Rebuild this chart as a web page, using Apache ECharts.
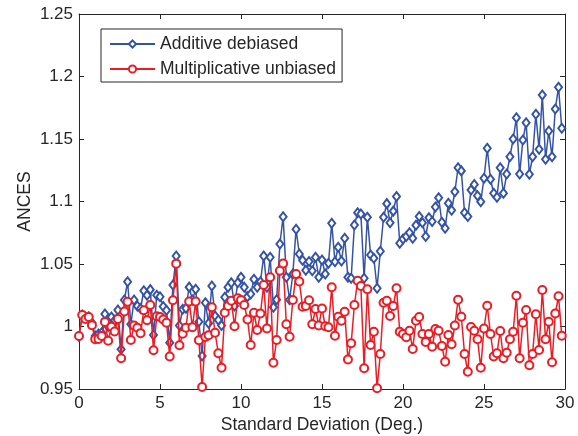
<!DOCTYPE html>
<html>
<head>
<meta charset="utf-8">
<script src="https://cdn.jsdelivr.net/npm/echarts@6/dist/echarts.min.js"></script>
<style>
  html, body { margin: 0; padding: 0; background: #fff; }
  #main { width: 578px; height: 436px; }
</style>
</head>
<body>
<div id="main"></div>
<script>
// sample spacing on the x axis (deg.)
var step = 0.2;

var seriesNames = ['Additive debiased', 'Multiplicative unbiased'];

var additive = [
  0.992, 1.0092, 1.0074, 1.0078, 1.003, 0.9924, 0.994, 0.995, 1.010, 1.000,
  1.0076, 1.005, 1.0132, 0.9818, 1.0212, 1.0358, 1.0018, 1.0212, 1.0164, 1.0144,
  1.0286, 1.025, 1.0295, 0.9932, 1.025, 1.0238, 1.016, 1.013, 0.987, 1.0332,
  1.0564, 1.0008, 1.0138, 1.0146, 1.0315, 1.0212, 1.0298, 1.0038, 0.9764, 1.019,
  1.0026, 1.0324, 1.0084, 1.0052, 1.0008, 1.0234, 1.0314, 1.035, 1.0164, 1.035,
  1.0394, 1.0314, 1.0238, 1.026, 1.0378, 1.0314, 1.0358, 1.0564, 1.0314, 1.0554,
  1.0154, 1.0214, 1.066, 1.0878, 1.0394, 1.0214, 1.042, 1.0778, 1.058, 1.053,
  1.045, 1.052, 1.0446, 1.0554, 1.0394, 1.0532, 1.042, 1.0506, 1.0826, 1.0518,
  1.0634, 1.0524, 1.0706, 1.0394, 1.0386, 1.0812, 1.091, 1.09, 1.0386, 1.0874,
  1.0572, 1.0546, 1.0306, 1.0602, 1.0874, 1.0983, 1.083, 1.0923, 1.104, 1.0666,
  1.070, 1.072, 1.075, 1.0706, 1.081, 1.088, 1.083, 1.072, 1.087, 1.084,
  1.0956, 1.103, 1.0834, 1.0786, 1.0986, 1.093, 1.1078, 1.127, 1.1245, 1.091,
  1.088, 1.1092, 1.1136, 1.1046, 1.0998, 1.1186, 1.1426, 1.1178, 1.1066, 1.1034,
  1.127, 1.1066, 1.122, 1.1358, 1.15, 1.167, 1.122, 1.1492, 1.163, 1.1218,
  1.1358, 1.1698, 1.1418, 1.1852, 1.1338, 1.1564, 1.1358, 1.174, 1.1914, 1.1586
];

var multiplicative = [
  0.9924, 1.0092, 1.006, 1.0076, 1.001, 0.9898, 0.990, 0.9924, 1.0037, 0.9886,
  0.9998, 0.996, 1.006, 0.9746, 1.012, 1.0198, 0.9892, 1.0008, 0.999, 0.9947,
  1.013, 1.005, 1.0172, 0.981, 1.0082, 1.0077, 1.0056, 1.003, 0.976, 1.021,
  1.0503, 0.985, 0.9942, 0.999, 1.02, 0.9995, 1.02, 0.989, 0.9516, 0.9916,
  0.993, 1.0154, 0.995, 0.9786, 0.967, 1.011, 1.0164, 1.0206, 1.0002, 1.0226,
  1.0212, 1.0172, 1.0056, 0.9852, 1.011, 0.9972, 1.0104, 1.0332, 0.9984, 1.0394,
  0.971, 0.9892, 1.0446, 1.0504, 1.0018, 0.9918, 1.0212, 1.042, 1.036, 1.0158,
  1.0164, 1.021, 1.0018, 1.014, 1.0008, 1.0144, 1.0002, 0.9994, 1.0314, 0.9926,
  1.0078, 1.0046, 1.0118, 0.9736, 0.9866, 1.0172, 1.0366, 1.0324, 0.9666, 1.0298,
  0.9852, 0.9958, 0.9506, 0.978, 1.019, 1.0206, 1.0084, 1.0164, 1.0306, 0.9958,
  0.994, 0.9914, 0.9966, 0.982, 1.0046, 1.0076, 0.994, 0.9876, 0.994, 0.9838,
  0.998, 0.9966, 0.9844, 0.9718, 0.9932, 0.9858, 1.0008, 1.0214, 1.0078, 0.978,
  0.9638, 0.9996, 0.9966, 0.9898, 0.967, 0.9984, 1.0166, 0.994, 0.976, 0.9786,
  0.9964, 0.9746, 0.979, 0.9898, 0.9958, 1.0246, 0.9746, 1.003, 1.0132, 0.969,
  0.978, 1.0098, 0.9812, 1.0292, 0.9898, 1.0038, 0.9714, 1.0104, 1.0242, 0.9926
];

var xTicks = [0, 5, 10, 15, 20, 25, 30];
var yTicks = [0.95, 1, 1.05, 1.1, 1.15, 1.2, 1.25];

function pairs(arr) {
  return arr.map(function (v, i) { return [+(i * step).toFixed(2), v]; });
}

var textColor = '#262626';
var font = 'Liberation Sans, Arial, Helvetica, sans-serif';

var chart = echarts.init(document.getElementById('main'), null, { renderer: 'canvas' });

var xBase = {
  type: 'value',
  min: xTicks[0],
  max: xTicks[xTicks.length - 1],
  interval: 5,
  splitLine: { show: false },
  axisLine: { show: true, onZero: false, lineStyle: { color: textColor, width: 1 } },
  axisTick: { show: true, inside: true, length: 5, lineStyle: { color: textColor } }
};
var yBase = {
  type: 'value',
  min: yTicks[0],
  max: yTicks[yTicks.length - 1],
  interval: 0.05,
  splitLine: { show: false },
  axisLine: { show: true, onZero: false, lineStyle: { color: textColor, width: 1 } },
  axisTick: { show: true, inside: true, length: 5, lineStyle: { color: textColor } }
};

var option = {
  backgroundColor: '#fff',
  animation: false,
  textStyle: { fontFamily: font },
  grid: { left: 79, right: 13, top: 14, bottom: 47, outerBoundsMode: 'none', containLabel: false },
  legend: {
    left: 101,
    top: 29,
    orient: 'vertical',
    itemWidth: 45,
    itemHeight: 9,
    itemGap: 7,
    padding: [6, 6, 4, 8],
    borderColor: textColor,
    borderWidth: 1,
    backgroundColor: '#fff',
    textStyle: { fontSize: 17.5, lineHeight: 18, color: textColor, fontFamily: font },
    data: seriesNames
  },
  xAxis: [
    Object.assign({}, xBase, {
      position: 'bottom',
      name: 'Standard Deviation (Deg.)',
      nameLocation: 'middle',
      nameGap: 27,
      nameMoveOverlap: false,
      nameTextStyle: { fontSize: 17.5, color: textColor },
      axisLabel: { fontSize: 17, color: textColor, margin: 6 }
    }),
    Object.assign({}, xBase, { position: 'top', axisLabel: { show: false } })
  ],
  yAxis: [
    Object.assign({}, yBase, {
      position: 'left',
      name: 'ANCES',
      nameLocation: 'middle',
      nameGap: 45,
      nameMoveOverlap: false,
      nameTextStyle: { fontSize: 17.5, color: textColor },
      axisLabel: {
        fontSize: 17, color: textColor, margin: 6,
        formatter: function (v) { return String(+v.toFixed(2)); }
      }
    }),
    Object.assign({}, yBase, { position: 'right', axisLabel: { show: false } })
  ],
  series: [
    {
      name: seriesNames[0],
      type: 'line',
      data: pairs(additive),
      symbol: 'emptyDiamond',
      symbolSize: [7, 9],
      showAllSymbol: true,
      color: '#3453a6',
      lineStyle: { width: 1.5, color: '#3453a6' },
      itemStyle: { color: '#3453a6', borderWidth: 1.5 },
      z: 2
    },
    {
      name: seriesNames[1],
      type: 'line',
      data: pairs(multiplicative),
      symbol: 'emptyCircle',
      symbolSize: 8,
      showAllSymbol: true,
      color: '#ec1c24',
      lineStyle: { width: 1.5, color: '#ec1c24' },
      itemStyle: { color: '#ec1c24', borderWidth: 1.5 },
      z: 3
    }
  ]
};

chart.setOption(option);
window.onresize = chart.resize;
</script>
</body>
</html>
